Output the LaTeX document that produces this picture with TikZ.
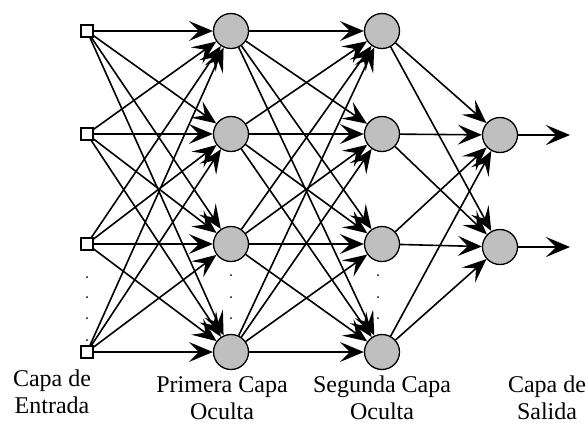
\documentclass[tikz,border=0pt]{standalone}
\usepackage{fontspec}
\setmainfont{Liberation Serif}
\usetikzlibrary{arrows.meta}
\begin{document}
\begin{tikzpicture}[x=1pt,y=-1pt,
  neurona/.style={circle,draw,line width=1.3pt,fill=black!25,minimum size=35pt,inner sep=0pt},
  entrada/.style={rectangle,draw,line width=1.3pt,fill=white,minimum size=12pt,inner sep=0pt},
  conexion/.style={line width=1.6pt,-{Stealth[length=24pt,width=20pt,inset=10pt]}},
  etiqueta/.style={align=center,font=\fontsize{24}{27}\selectfont}]
  \useasboundingbox (0,0) rectangle (588,424);

  % capas
  \foreach \i/\y in {1/31,2/134,3/244,4/352} {
    \node[entrada] (in\i) at (87,\y) {};
    \node[neurona] (ha\i) at (231,\y) {};
    \node[neurona] (hb\i) at (382,\y) {};
  }
  \node[neurona] (out1) at (500,135) {};
  \node[neurona] (out2) at (500,247) {};
  \coordinate (sal1) at (570,135);
  \coordinate (sal2) at (570,247);

  % conexiones
  \foreach \i in {1,...,4}
    \foreach \j in {1,...,4} {
      \draw[conexion] (in\i) -- (ha\j);
      \draw[conexion] (ha\i) -- (hb\j);
    }
  \foreach \i in {1,...,4}
    \foreach \j in {1,2}
      \draw[conexion] (hb\i) -- (out\j);
  \draw[conexion] (out1) -- (sal1);
  \draw[conexion] (out2) -- (sal2);

  % puntos suspensivos
  \foreach \y in {277,297,318,340}
    \fill (87,\y) circle (1pt);
  \foreach \y in {275,297,318} {
    \fill (231,\y) circle (1pt);
    \fill (378,\y) circle (1pt);
  }

  \node[etiqueta] (lentrada) at (52,392) {Capa de\\Entrada};
  \node[etiqueta] (loculta1) at (222,398) {Primera Capa\\Oculta};
  \node[etiqueta] (loculta2) at (382,398) {Segunda Capa\\Oculta};
  \node[etiqueta] (lsalida) at (547,398) {Capa de\\Salida};
\end{tikzpicture}
\end{document}
